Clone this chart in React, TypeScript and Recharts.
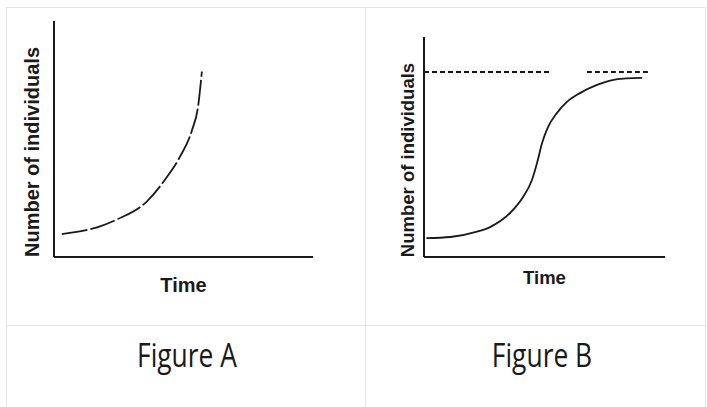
import { FC } from "react";
import { LineChart, Line, XAxis, YAxis, ReferenceLine, Label } from "recharts";

// Figure A: exponential growth (time %, individuals %)
const timeA = [3, 17.8, 24.3, 35.9, 43.6, 48.6, 53.3, 55.6, 57.1];
const countA = [9.7, 13.0, 15.9, 23.6, 33.9, 42.4, 53.8, 63.6, 78.6];

// Figure B: logistic growth
const timeB = [1, 11, 22, 27.4, 35.7, 41.1, 44.8, 46.9, 49, 51.5, 55.2, 59.3, 64.7, 71.8, 77.2, 84, 90.5];
const countB = [8.6, 9.1, 11.5, 13.6, 20, 27.3, 35, 42.7, 51.8, 59.1, 65.5, 70.5, 74.5, 78.2, 80.2, 81.2, 81.4];

// carrying capacity dashed line, drawn in two pieces
const capacity = 84.1;
const capacitySegments = [
   [0, 52.3],
   [67.6, 93.8],
];

const captions = ["Figure A", "Figure B"];
const xTitle = "Time";
const yTitle = "Number of individuals";

const dataA = timeA.map((t, i) => ({ t, n: countA[i] }));
const dataB = timeB.map((t, i) => ({ t, n: countB[i] }));

const ink = "#1a1a1a";
const gridColor = "#e4e4e4";
const font = "'Liberation Sans', Arial, sans-serif";

const line = (style: React.CSSProperties): React.CSSProperties => ({
   position: "absolute",
   background: gridColor,
   ...style,
});

const App: FC = () => {
   return (
      <div
         style={{
            position: "absolute",
            left: 0,
            top: 0,
            width: 707,
            height: 407,
            background: "#fff",
            overflow: "hidden",
         }}
      >
         {/* table borders */}
         <div style={line({ left: 6, top: 7, width: 700, height: 1 })} />
         <div style={line({ left: 6, top: 325, width: 700, height: 1 })} />
         <div style={line({ left: 6, top: 7, width: 1, height: 400 })} />
         <div style={line({ left: 365, top: 7, width: 1, height: 400 })} />
         <div style={line({ left: 705, top: 7, width: 1, height: 400 })} />

         <div style={{ position: "absolute", left: 0, top: 0 }}>
            <LineChart
               width={340}
               height={300}
               data={dataA}
               margin={{ top: 21, left: 53, right: 27, bottom: 42 }}
            >
               <XAxis
                  dataKey="t"
                  type="number"
                  domain={[0, 100]}
                  height={1}
                  tick={false}
                  tickLine={false}
                  axisLine={{ stroke: ink, strokeWidth: 2 }}
               >
                  <Label
                     value={xTitle}
                     position="bottom"
                     offset={20}
                     fontSize={20}
                     fontWeight="bold"
                     fill={ink}
                     fontFamily={font}
                  />
               </XAxis>
               <YAxis
                  type="number"
                  domain={[0, 100]}
                  width={1}
                  tick={false}
                  tickLine={false}
                  axisLine={{ stroke: ink, strokeWidth: 2 }}
               >
                  <Label
                     value={yTitle}
                     angle={-90}
                     position={{ x: -14, y: 131 }}
                     fontSize={20}
                     fontWeight="bold"
                     fill={ink}
                     fontFamily={font}
                     style={{ textAnchor: "middle" }}
                  />
               </YAxis>
               <Line
                  dataKey="n"
                  type="monotone"
                  stroke={ink}
                  strokeWidth={1.8}
                  strokeDasharray="26 3"
                  dot={false}
                  isAnimationActive={false}
               />
            </LineChart>
         </div>

         <div style={{ position: "absolute", left: 360, top: 0 }}>
            <LineChart
               width={330}
               height={300}
               data={dataB}
               margin={{ top: 37, left: 63, right: 25, bottom: 42 }}
            >
               <XAxis
                  dataKey="t"
                  type="number"
                  domain={[0, 100]}
                  height={1}
                  tick={false}
                  tickLine={false}
                  axisLine={{ stroke: ink, strokeWidth: 2 }}
               >
                  <Label
                     value={xTitle}
                     position="bottom"
                     offset={13}
                     fontSize={18.5}
                     fontWeight="bold"
                     fill={ink}
                     fontFamily={font}
                  />
               </XAxis>
               <YAxis
                  type="number"
                  domain={[0, 100]}
                  width={1}
                  tick={false}
                  tickLine={false}
                  axisLine={{ stroke: ink, strokeWidth: 2 }}
               >
                  <Label
                     value={yTitle}
                     angle={-90}
                     position={{ x: -9.5, y: 123 }}
                     fontSize={18.5}
                     fontWeight="bold"
                     fill={ink}
                     fontFamily={font}
                     style={{ textAnchor: "middle" }}
                  />
               </YAxis>
               {capacitySegments.map(([from, to], i) => (
                  <ReferenceLine
                     key={i}
                     segment={[
                        { x: from, y: capacity },
                        { x: to, y: capacity },
                     ]}
                     stroke={ink}
                     strokeWidth={2}
                     strokeDasharray="5 3"
                  />
               ))}
               <Line
                  dataKey="n"
                  type="monotone"
                  stroke={ink}
                  strokeWidth={1.8}
                  dot={false}
                  isAnimationActive={false}
               />
            </LineChart>
         </div>

         {/* captions */}
         {captions.map((c, i) => (
            <div
               key={c}
               style={{
                  position: "absolute",
                  left: i === 0 ? 87 : 442,
                  top: 333,
                  width: 200,
                  textAlign: "center",
                  fontFamily: "'Open Sans', sans-serif",
                  fontSize: 33,
                  lineHeight: "44px",
                  color: ink,
                  transform: "scaleX(0.8)",
               }}
            >
               {c}
            </div>
         ))}
      </div>
   );
};

export default App;
